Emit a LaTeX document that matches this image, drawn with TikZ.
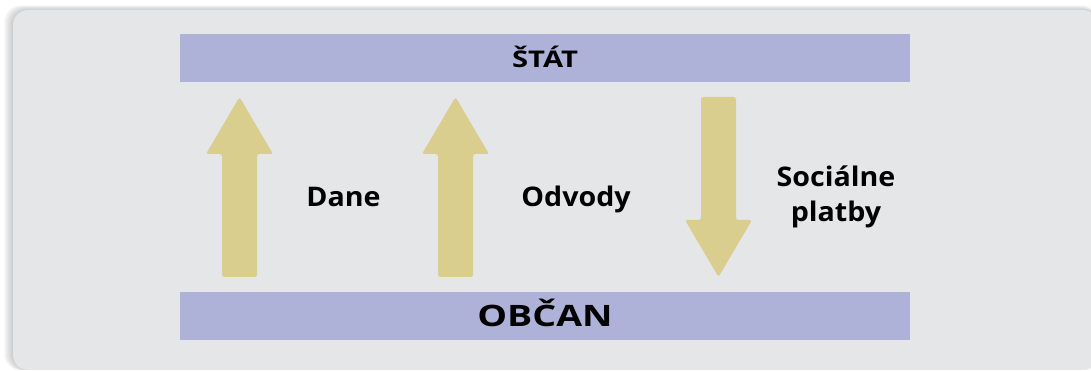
\documentclass[tikz,border=0pt]{standalone}
\usepackage{fontspec}
\setmainfont{Open Sans}
\newfontfamily\barfont[FakeStretch=1.27]{Open Sans}
\newfontfamily\tagfont[FakeStretch=1.06]{Open Sans}
\usetikzlibrary{positioning}

\definecolor{panelgray}{HTML}{E5E6E8}
\definecolor{barblue}{HTML}{AFB2D8}
\definecolor{flowsand}{HTML}{DACE8F}

\tikzset{
x=1pt, y=1pt,
bar/.style={fill=barblue, minimum width=730pt, minimum height=48pt, inner sep=0pt, text depth=0pt},
flow/.style={fill=flowsand, rounded corners=2.5pt},
tag/.style={font=\tagfont\bfseries\fontsize{27}{35}\selectfont, align=center, inner sep=0pt},
pics/flowarrow/.style={code={
  \fill[flow] (-17.5,-90) -- (-17.5,33) -- (-33.5,33) -- (0,90)
    -- (33.5,33) -- (17.5,33) -- (17.5,-90) -- cycle;
}},
}

\begin{document}
\begin{tikzpicture}
    \useasboundingbox (0,0) rectangle (1091,371);

    % soft shadow and panel
    \foreach \i in {1,...,9}
        \fill[black, opacity=0.022, rounded corners=16pt] (13-\i,1) rectangle (1098,361+0.5*\i);
    \fill[panelgray, rounded corners=15pt] (13,1) rectangle (1098,361);

    \node[bar, text height=19pt, font=\barfont\bfseries\fontsize{23}{27}\selectfont] (stat) at (545,313) {ŠTÁT};
    \node[bar, text height=22pt, font=\barfont\bfseries\fontsize{29.5}{34}\selectfont] (obcan) at (545,55) {OBČAN};

    \pic at (239.5,184) {flowarrow};
    \pic at (455.5,184) {flowarrow};
    \pic[rotate=180] at (718.5,184) {flowarrow};

    \node[tag, anchor=base] (dane) at (343.5,164) {Dane};
    \node[tag, anchor=base] (odvody) at (576,164) {Odvody};
    \node[tag, anchor=base] (platby) at (836,149) {Sociálne\\platby};
\end{tikzpicture}
\end{document}
